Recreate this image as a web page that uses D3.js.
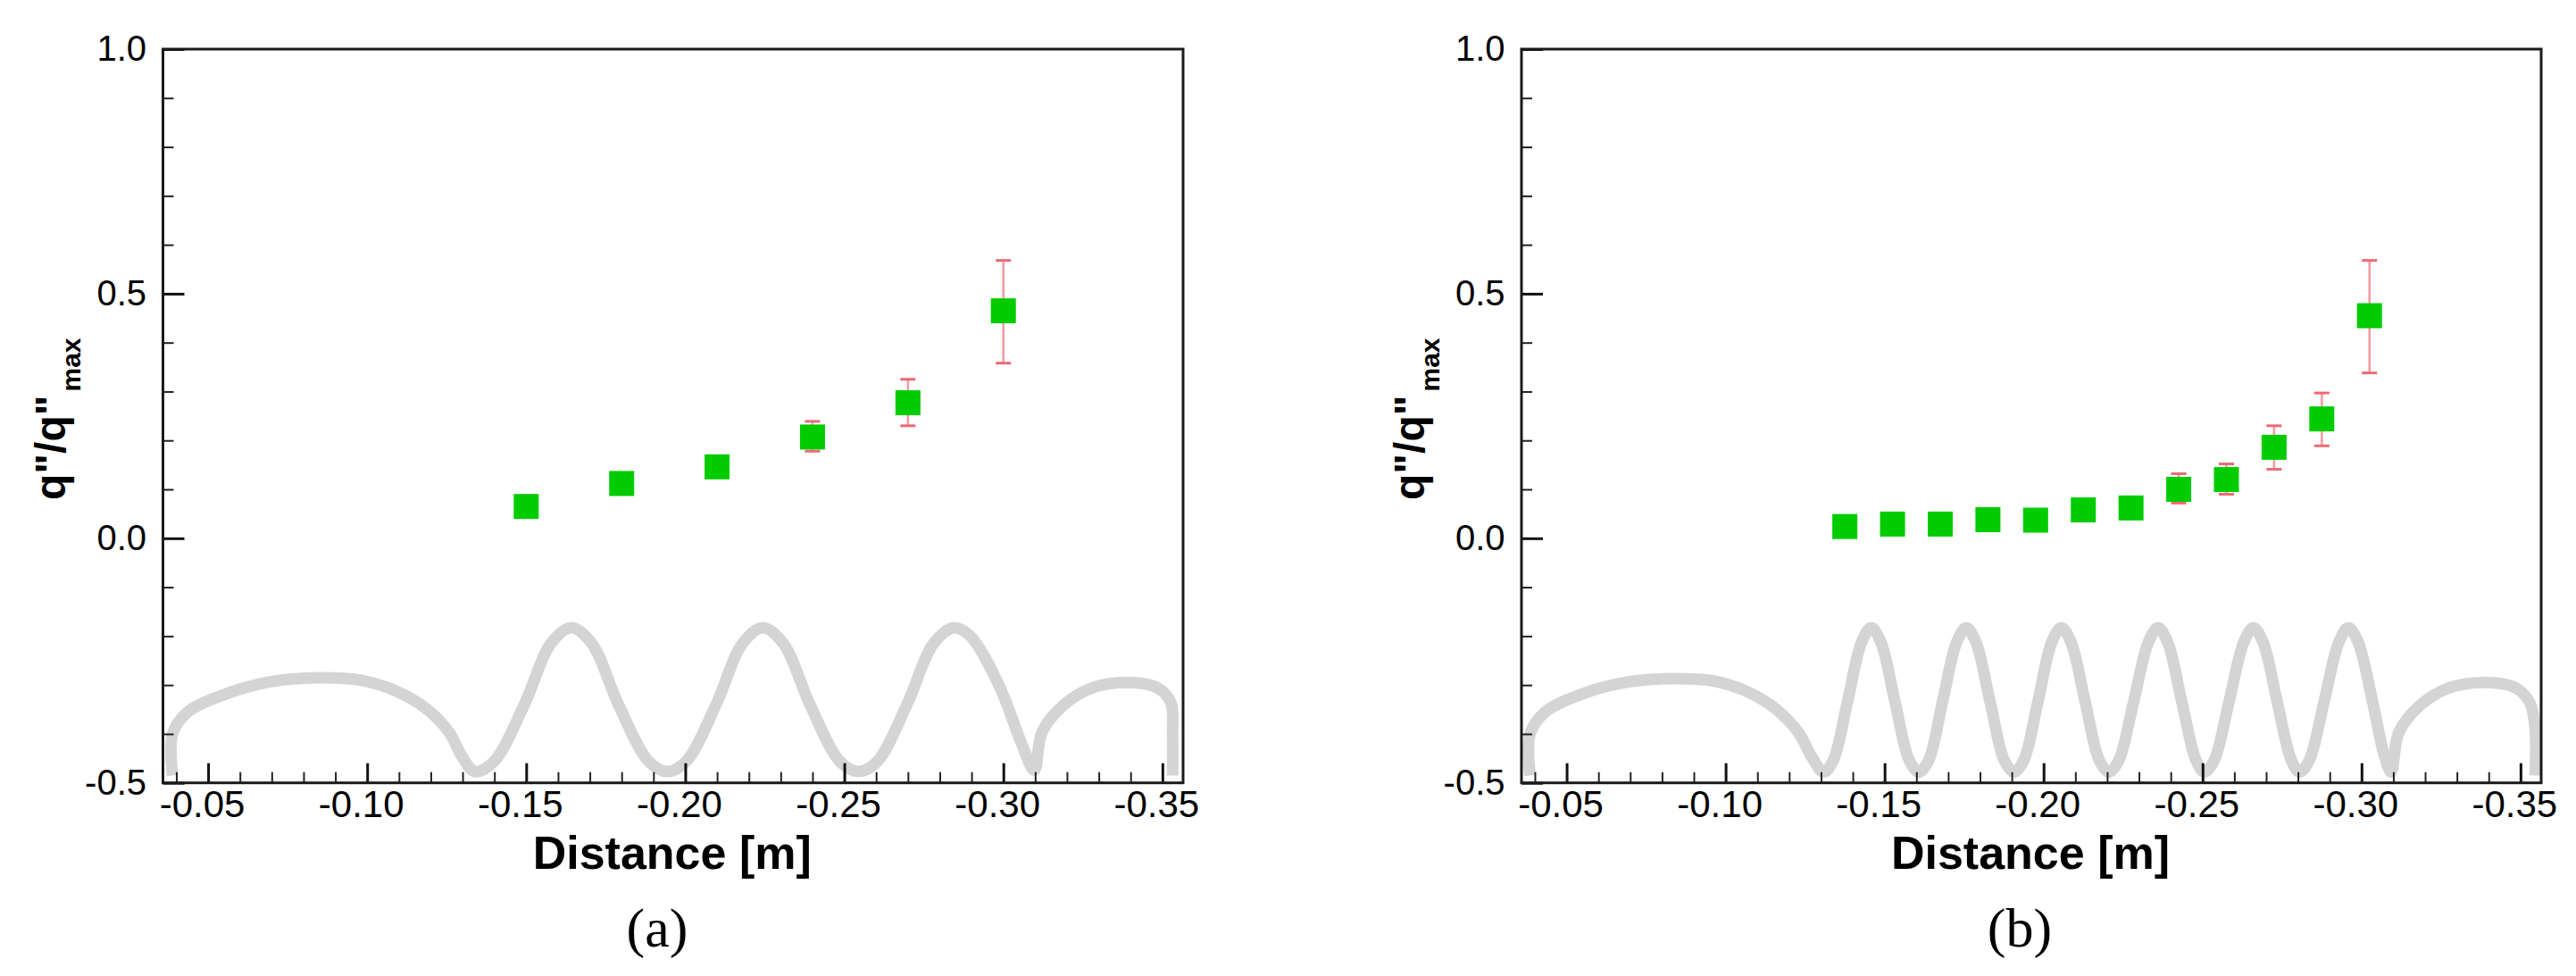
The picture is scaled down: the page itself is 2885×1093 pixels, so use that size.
<!DOCTYPE html>
<html><head><meta charset="utf-8">
<script src="https://cdn.jsdelivr.net/npm/d3@7"></script>
<style>body{margin:0;background:#fff;overflow:hidden}</style>
</head><body><svg id="chart" width="2885" height="1093"></svg>
<script>
// ---------- data ----------
const xTickValues = [-0.05, -0.10, -0.15, -0.20, -0.25, -0.30, -0.35];
const xTickLabels = ["-0.05", "-0.10", "-0.15", "-0.20", "-0.25", "-0.30", "-0.35"];
const xMinorValues = [-0.04, -0.06, -0.07, -0.08, -0.09, -0.11, -0.12, -0.13, -0.14, -0.16, -0.17, -0.18, -0.19,
  -0.21, -0.22, -0.23, -0.24, -0.26, -0.27, -0.28, -0.29, -0.31, -0.32, -0.33, -0.34];
const yTickValues = [-0.5, 0.0, 0.5, 1.0];
const yTickLabels = ["-0.5", "0.0", "0.5", "1.0"];
const yMinorValues = [-0.4, -0.3, -0.2, -0.1, 0.1, 0.2, 0.3, 0.4, 0.6, 0.7, 0.8, 0.9];

const xTitle = "Distance [m]";
const yTitleMain = "q\"/q\"";
const yTitleSub = "max";
const panelLabels = ["(a)", "(b)"];

// panel (a)
const distanceA = [-0.15, -0.18, -0.21, -0.24, -0.27, -0.30];
const ratioA    = [0.065, 0.112, 0.146, 0.207, 0.277, 0.465];
const errLowA   = [0.057, 0.103, 0.132, 0.178, 0.230, 0.358];
const errHighA  = [0.073, 0.121, 0.158, 0.239, 0.325, 0.568];

// panel (b)
const distanceB = [-0.1375, -0.1525, -0.1675, -0.1825, -0.1975, -0.2125, -0.2275, -0.2425, -0.2575, -0.2725, -0.2875, -0.3025];
const ratioB    = [0.024, 0.029, 0.029, 0.038, 0.037, 0.058, 0.062, 0.100, 0.120, 0.186, 0.244, 0.455];
const errLowB   = [0.016, 0.021, 0.021, 0.030, 0.029, 0.050, 0.054, 0.072, 0.090, 0.141, 0.189, 0.338];
const errHighB  = [0.032, 0.037, 0.037, 0.046, 0.045, 0.066, 0.070, 0.132, 0.152, 0.230, 0.297, 0.568];

// surface profile outline (grey): [distance, value]
const surfaceA = [
  [-0.0388, -0.485], [-0.0388, -0.400], [-0.0436, -0.355], [-0.0557, -0.318], [-0.0697, -0.293],
  [-0.0848, -0.285], [-0.0978, -0.290], [-0.1090, -0.312], [-0.1185, -0.348], [-0.1258, -0.397],
  [-0.1298, -0.446], [-0.1339, -0.477],
  [-0.1399, -0.456], [-0.1494, -0.340], [-0.1578, -0.215], [-0.1642, -0.183],
  [-0.1706, -0.215], [-0.1790, -0.340], [-0.1885, -0.456], [-0.1944, -0.477],
  [-0.2003, -0.456], [-0.2097, -0.340], [-0.2180, -0.215], [-0.2244, -0.183],
  [-0.2308, -0.215], [-0.2392, -0.340], [-0.2486, -0.456], [-0.2545, -0.477],
  [-0.2604, -0.456], [-0.2697, -0.340], [-0.2781, -0.215], [-0.2845, -0.183],
  [-0.2896, -0.200], [-0.2990, -0.306], [-0.3055, -0.416], [-0.3097, -0.474],
  [-0.3121, -0.397], [-0.3186, -0.343], [-0.3279, -0.306], [-0.3401, -0.295],
  [-0.3485, -0.306], [-0.3527, -0.337], [-0.3532, -0.400], [-0.3532, -0.485]
];
const surfaceB = [
  [-0.0385, -0.485], [-0.0385, -0.400], [-0.0433, -0.355], [-0.0550, -0.318], [-0.0690, -0.294],
  [-0.0840, -0.287], [-0.0965, -0.292], [-0.1070, -0.314], [-0.1160, -0.350], [-0.1230, -0.398],
  [-0.1270, -0.446], [-0.1308, -0.478],
  [-0.1338, -0.455], [-0.1383, -0.335], [-0.1428, -0.212], [-0.1458, -0.183],
  [-0.1488, -0.212], [-0.1533, -0.335], [-0.1578, -0.455], [-0.1608, -0.478],
  [-0.1638, -0.455], [-0.1682, -0.335], [-0.1727, -0.212], [-0.1757, -0.183],
  [-0.1787, -0.212], [-0.1832, -0.335], [-0.1877, -0.455], [-0.1907, -0.478],
  [-0.1937, -0.455], [-0.1982, -0.335], [-0.2026, -0.212], [-0.2056, -0.183],
  [-0.2086, -0.212], [-0.2131, -0.335], [-0.2176, -0.455], [-0.2206, -0.478],
  [-0.2236, -0.455], [-0.2283, -0.335], [-0.2330, -0.212], [-0.2360, -0.183],
  [-0.2390, -0.212], [-0.2435, -0.335], [-0.2480, -0.455], [-0.2506, -0.478],
  [-0.2536, -0.455], [-0.2583, -0.335], [-0.2630, -0.212], [-0.2660, -0.183],
  [-0.2690, -0.212], [-0.2735, -0.335], [-0.2780, -0.455], [-0.2805, -0.478],
  [-0.2835, -0.455], [-0.2882, -0.335], [-0.2929, -0.212], [-0.2959, -0.183],
  [-0.2989, -0.212], [-0.3035, -0.335], [-0.3070, -0.440], [-0.3093, -0.478],
  [-0.3117, -0.397], [-0.3182, -0.343], [-0.3275, -0.306], [-0.3404, -0.295],
  [-0.3485, -0.306], [-0.3530, -0.337], [-0.3546, -0.390], [-0.3546, -0.485]
];

const xDomain = [-0.0358, -0.3565];
const yDomain = [-0.5, 1.0];

// ---------- drawing ----------
const svg = d3.select("#chart");
const sans = "'Liberation Sans', Arial, sans-serif";
const serif = "'Liberation Serif', 'Times New Roman', serif";

const panels = [
  { left: 182.5, top: 55, width: 1142.5, height: 821.7, dist: distanceA, val: ratioA, lo: errLowA, hi: errHighA, surf: surfaceA, label: panelLabels[0], labelX: 736 },
  { left: 1704, top: 55, width: 1142, height: 821.7, dist: distanceB, val: ratioB, lo: errLowB, hi: errHighB, surf: surfaceB, label: panelLabels[1], labelX: 2262 }
];

panels.forEach((p, i) => {
  const x = d3.scaleLinear().domain(xDomain).range([0, p.width]);
  const y = d3.scaleLinear().domain(yDomain).range([p.height, 0]);
  const g = svg.append("g").attr("transform", `translate(${p.left},${p.top})`);

  const clipId = "clip" + i;
  g.append("clipPath").attr("id", clipId).append("rect")
    .attr("x", 0).attr("y", 0).attr("width", p.width).attr("height", p.height);

  // grey surface outline
  const line = d3.line().x(d => x(d[0])).y(d => y(d[1])).curve(d3.curveCatmullRom.alpha(0.5));
  g.append("path").datum(p.surf)
    .attr("clip-path", `url(#${clipId})`)
    .attr("d", line)
    .attr("fill", "none").attr("stroke", "#d4d4d4").attr("stroke-width", 13)
    .attr("stroke-linejoin", "round");

  // error bars
  const eb = g.append("g").attr("class", "errorbars");
  p.dist.forEach((d, k) => {
    const cx = x(d);
    eb.append("line").attr("x1", cx).attr("x2", cx).attr("y1", y(p.lo[k])).attr("y2", y(p.hi[k]))
      .attr("stroke", "#f29aa0").attr("stroke-width", 2.5);
    [p.lo[k], p.hi[k]].forEach(v => {
      eb.append("line").attr("x1", cx - 8.5).attr("x2", cx + 8.5).attr("y1", y(v)).attr("y2", y(v))
        .attr("stroke", "#ea6a74").attr("stroke-width", 3);
    });
  });

  // markers
  const ms = 28;
  g.append("g").selectAll("rect").data(p.dist.map((d, k) => [d, p.val[k]])).join("rect")
    .attr("x", d => x(d[0]) - ms / 2).attr("y", d => y(d[1]) - ms / 2)
    .attr("width", ms).attr("height", ms).attr("fill", "#00cc00");

  // axes
  const yAxis = d3.axisLeft(y).tickValues(yTickValues)
    .tickFormat((d, k) => yTickLabels[k]).tickSize(-24).tickPadding(18.5);
  const ya = g.append("g").call(yAxis);
  ya.select(".domain").remove();
  ya.selectAll(".tick line").attr("stroke", "#111").attr("stroke-width", 3);
  ya.selectAll(".tick text").attr("font-family", sans).attr("font-size", 40).attr("fill", "#000");

  const yMinor = d3.axisLeft(y).tickValues(yMinorValues).tickFormat("").tickSize(-12);
  const ym = g.append("g").call(yMinor);
  ym.select(".domain").remove();
  ym.selectAll(".tick line").attr("stroke", "#222").attr("stroke-width", 2);

  const xAxis = d3.axisBottom(x).tickValues(xTickValues)
    .tickFormat((d, k) => xTickLabels[k]).tickSize(-22).tickPadding(8);
  const xa = g.append("g").attr("transform", `translate(0,${p.height})`).call(xAxis);
  xa.select(".domain").remove();
  xa.selectAll(".tick line").attr("stroke", "#111").attr("stroke-width", 3);
  xa.selectAll(".tick text").attr("font-family", sans).attr("font-size", 42).attr("fill", "#000").attr("dx", -7);

  const xMinor = d3.axisBottom(x).tickValues(xMinorValues).tickFormat("").tickSize(-12);
  const xm = g.append("g").attr("transform", `translate(0,${p.height})`).call(xMinor);
  xm.select(".domain").remove();
  xm.selectAll(".tick line").attr("stroke", "#222").attr("stroke-width", 2);

  // frame
  g.append("rect").attr("x", 0).attr("y", 0).attr("width", p.width).attr("height", p.height)
    .attr("fill", "none").attr("stroke", "#1a1a1a").attr("stroke-width", 3);

  // x title
  g.append("text").attr("x", p.width / 2 - 1).attr("y", p.height + 96)
    .attr("text-anchor", "middle").attr("font-family", sans).attr("font-weight", "bold")
    .attr("font-size", 52).attr("fill", "#000").text(xTitle);

  // y title
  const yt = svg.append("text")
    .attr("transform", `translate(${p.left - 109.5},560) rotate(-90)`)
    .attr("text-anchor", "start").attr("font-family", sans).attr("font-weight", "bold").attr("fill", "#000");
  yt.append("tspan").attr("font-size", 48).text(yTitleMain);
  yt.append("tspan").attr("font-size", 30).attr("dx", 4).attr("dy", 17).text(yTitleSub);

  // panel caption
  svg.append("text").attr("x", p.labelX).attr("y", 1060).attr("text-anchor", "middle")
    .attr("font-family", serif).attr("font-size", 62).attr("fill", "#000").text(p.label);
});
</script>
</body></html>
